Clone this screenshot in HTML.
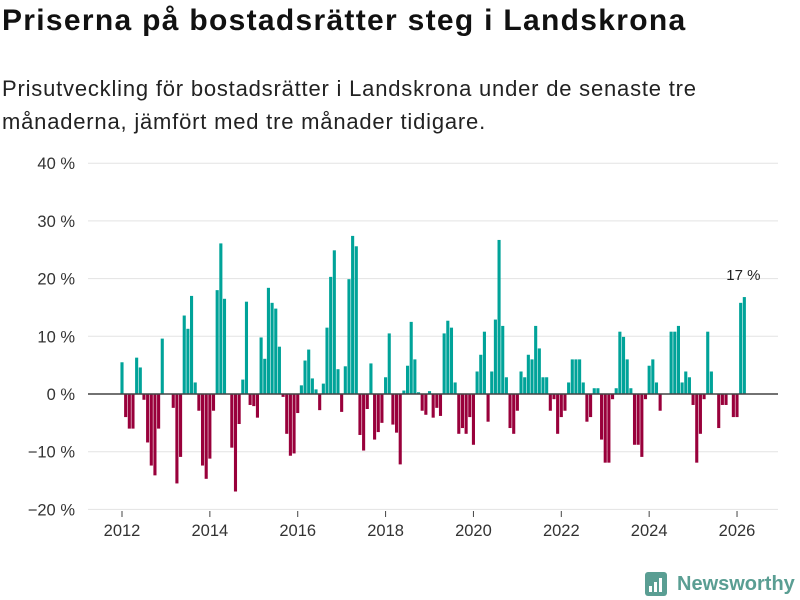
<!DOCTYPE html>
<html><head><meta charset="utf-8">
<style>
body{margin:0;background:#fff;font-family:"Liberation Sans","DejaVu Sans",sans-serif;}
#wrap{position:relative;width:800px;height:600px;overflow:hidden;}
h1{position:absolute;left:2px;top:4px;margin:0;font-size:30px;font-weight:bold;color:#111;letter-spacing:1.3px;}
#sub{position:absolute;left:2px;top:72px;margin:0;font-size:22px;line-height:33px;color:#222;width:760px;letter-spacing:0.8px;}
</style></head><body>
<div id="wrap">
<h1>Priserna på bostadsrätter steg i Landskrona</h1>
<p id="sub">Prisutveckling för bostadsrätter i Landskrona under de senaste tre<br>månaderna, jämfört med tre månader tidigare.</p>
<svg id="chart" width="800" height="600" style="position:absolute;left:0;top:0"></svg>
</div>
<script>
const startYear = 2012;
const values = [5.5,-4.0,-6.0,-6.0,6.3,4.6,-1.0,-8.4,-12.4,-14.1,-6.0,9.6,0,0,-2.4,-15.5,-10.9,13.6,11.3,17.0,2.0,-2.9,-12.4,-14.7,-11.2,-2.9,18.0,26.1,16.5,0,-9.3,-16.9,-5.2,2.5,16.0,-1.9,-2.1,-4.1,9.8,6.1,18.4,15.8,14.8,8.2,-0.5,-6.9,-10.7,-10.3,-3.3,1.5,5.8,7.7,2.7,0.8,-2.8,1.8,11.5,20.3,24.9,4.3,-3.1,4.8,19.9,27.4,25.6,-7.1,-9.8,-2.6,5.3,-7.9,-6.6,-5.0,2.9,10.5,-5.3,-6.7,-12.2,0.6,4.9,12.5,6.0,0.3,-2.9,-3.6,0.5,-4.1,-2.4,-3.8,10.5,12.7,11.5,2.0,-6.9,-5.9,-6.9,-4.0,-8.8,3.9,6.8,10.8,-4.8,3.9,12.9,26.7,11.8,2.9,-5.9,-6.9,-2.9,3.9,2.9,6.8,6.0,11.8,7.9,2.9,2.9,-2.9,-0.9,-6.9,-4.0,-2.9,2.0,6.0,6.0,6.0,2.0,-4.8,-4.0,1.0,1.0,-7.9,-11.9,-11.9,-0.9,1.0,10.8,9.9,6.0,1.0,-8.8,-8.8,-10.9,-0.9,4.9,6.0,2.0,-2.9,0,0,10.8,10.8,11.8,2.0,3.9,2.9,-1.9,-11.9,-6.9,-0.9,10.8,3.9,0,-5.9,-1.9,-1.9,0,-4.0,-4.0,15.8,16.8];
const yTicks = [-20,-10,0,10,20,30,40];
const yTickLabels = ["−20 %","−10 %","0 %","10 %","20 %","30 %","40 %"];
const xTicks = [2012,2014,2016,2018,2020,2022,2024,2026];
const lastLabel = "17 %";

const NS="http://www.w3.org/2000/svg";
const svg=document.getElementById('chart');
function y(v){return 394 - v*5.77;}
function x(t){return 122 + (t-2012)*43.93;}
function el(tag,attrs){const e=document.createElementNS(NS,tag);for(const k in attrs)e.setAttribute(k,attrs[k]);svg.appendChild(e);return e;}
const font='"Liberation Sans","DejaVu Sans",sans-serif';
yTicks.forEach((v,i)=>{
  if(v!==0){const g=el('line',{x1:88,x2:778,y1:y(v),y2:y(v),stroke:'#e3e3e3','stroke-width':1});
  
  }
  const t=el('text',{x:75,y:y(v)+6,'text-anchor':'end','font-size':16.5,fill:'#333','font-family':font});
  t.textContent=yTickLabels[i];
  
  
});
xTicks.forEach(yr=>{
  const tk=el('line',{x1:x(yr),x2:x(yr),y1:511,y2:517,stroke:'#444','stroke-width':1});
  
  
  const t=el('text',{x:x(yr),y:536,'text-anchor':'middle','font-size':16.5,fill:'#333','font-family':font});
  t.textContent=yr;
  
  
});
values.forEach((v,i)=>{
  const cx=x(startYear+i/12);
  const r=el('rect',{x:cx-1.55,width:3.1,y:Math.min(y(v),y(0)),height:Math.abs(y(v)-y(0)),fill:v>=0?'#00a399':'#99003b'});
  
  
});
const z=el('line',{x1:88,x2:778,y1:y(0),y2:y(0),stroke:'#444','stroke-width':1.6});


const li=values.length-1;
const lb=el('text',{x:x(startYear+li/12)-1,y:y(values[li])-17,'text-anchor':'middle','font-size':15,fill:'#222','font-family':font});
lb.textContent=lastLabel;


// logo
const lg=el('rect',{x:645,y:572,width:22,height:24,rx:3,fill:'#5a9e93'});


[[649,586,3,6],[654,582,3,10],[659,578,3,14]].forEach(b=>{const r=el('rect',{x:b[0],y:b[1],width:b[2],height:b[3],fill:'#fff'});

});
const lt=el('text',{x:677,y:590,'font-size':20,'font-weight':'bold',fill:'#5a9e93','font-family':font});
lt.textContent='Newsworthy';


</script>
</body></html>
